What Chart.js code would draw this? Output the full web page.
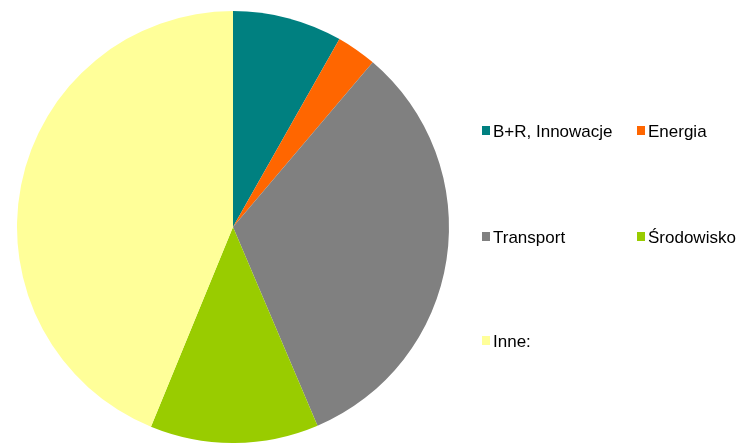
<!DOCTYPE html>
<html>
<head>
<meta charset="utf-8">
<script src="https://cdn.jsdelivr.net/npm/chart.js@4"></script>
<style>
  html, body { margin: 0; padding: 0; background: #fff; }
  #wrap { width: 740px; height: 443px; position: relative; }
</style>
</head>
<body>
<div id="wrap"><canvas id="myPieChart"></canvas></div>
<script>
var labels = ['B+R, Innowacje', 'Energia', 'Transport', 'Środowisko', 'Inne:'];
var values = [8.2, 3.0, 32.4, 12.6, 43.8];
var colors = ['#008080', '#ff6600', '#808080', '#99cc00', '#ffff99'];

// legenda w dwóch kolumnach, jak w oryginale
var legendSlots = [
  { x: 482, y: 137 }, { x: 637, y: 137 },
  { x: 482, y: 243 }, { x: 637, y: 243 },
  { x: 482, y: 347 }
];

var sideLegend = {
  id: 'sideLegend',
  afterDraw: function(chart) {
    var c = chart.ctx;
    var ds = chart.data.datasets[0];
    c.save();
    c.font = '17px "Liberation Sans", Arial, sans-serif';
    c.textBaseline = 'alphabetic';
    c.fillStyle = '#000';
    chart.data.labels.forEach(function(lab, i) {
      var s = legendSlots[i];
      c.fillStyle = ds.backgroundColor[i];
      c.fillRect(s.x, s.y - 11, 8, 9);
      c.fillStyle = '#000';
      c.fillText(lab, s.x + 11, s.y);
    });
    c.restore();
  }
};

var ctx = document.getElementById('myPieChart').getContext('2d');
var myPieChart = new Chart(ctx, {
  type: 'pie',
  data: {
    labels: labels,
    datasets: [{
      data: values,
      backgroundColor: colors,
      borderWidth: 0
    }]
  },
  options: {
    responsive: true,
    maintainAspectRatio: false,
    animation: false,
    layout: {
      padding: { left: 16, right: 290, top: 11, bottom: -2 }
    },
    plugins: {
      legend: { display: false },
      tooltip: { enabled: false }
    }
  },
  plugins: [sideLegend]
});
</script>
</body>
</html>
